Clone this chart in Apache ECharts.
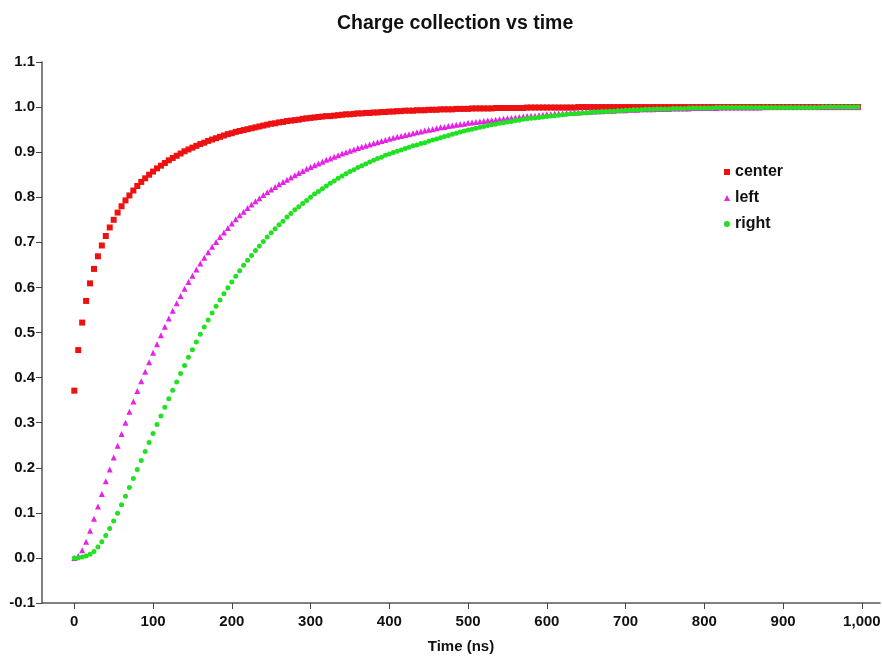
<!DOCTYPE html>
<html>
<head>
<meta charset="utf-8">
<title>Charge collection vs time</title>
<script src="https://cdn.jsdelivr.net/npm/echarts@6/dist/echarts.min.js"></script>
<style>
  html, body { margin: 0; padding: 0; background: #fff; }
  #main { width: 882px; height: 656px; }
</style>
</head>
<body>
<div id="main"></div>
<script>
// sample times (ns), one point every 5 ns
const times = [
  0, 5, 10, 15, 20, 25, 30, 35, 40, 45, 50, 55, 60, 65, 70, 75, 80, 85, 90, 95,
  100, 105, 110, 115, 120, 125, 130, 135, 140, 145, 150, 155, 160, 165, 170, 175, 180, 185, 190, 195,
  200, 205, 210, 215, 220, 225, 230, 235, 240, 245, 250, 255, 260, 265, 270, 275, 280, 285, 290, 295,
  300, 305, 310, 315, 320, 325, 330, 335, 340, 345, 350, 355, 360, 365, 370, 375, 380, 385, 390, 395,
  400, 405, 410, 415, 420, 425, 430, 435, 440, 445, 450, 455, 460, 465, 470, 475, 480, 485, 490, 495,
  500, 505, 510, 515, 520, 525, 530, 535, 540, 545, 550, 555, 560, 565, 570, 575, 580, 585, 590, 595,
  600, 605, 610, 615, 620, 625, 630, 635, 640, 645, 650, 655, 660, 665, 670, 675, 680, 685, 690, 695,
  700, 705, 710, 715, 720, 725, 730, 735, 740, 745, 750, 755, 760, 765, 770, 775, 780, 785, 790, 795,
  800, 805, 810, 815, 820, 825, 830, 835, 840, 845, 850, 855, 860, 865, 870, 875, 880, 885, 890, 895,
  900, 905, 910, 915, 920, 925, 930, 935, 940, 945, 950, 955, 960, 965, 970, 975, 980, 985, 990, 995
];

const center = [
  0.371, 0.461, 0.522, 0.570, 0.609, 0.641, 0.669, 0.693, 0.714, 0.733, 0.750, 0.766, 0.780, 0.793, 0.804, 0.815, 0.825, 0.834, 0.842, 0.850,
  0.857, 0.864, 0.870, 0.876, 0.882, 0.887, 0.892, 0.897, 0.902, 0.906, 0.910, 0.914, 0.918, 0.921, 0.925, 0.928, 0.931, 0.934, 0.937, 0.940,
  0.942, 0.945, 0.947, 0.949, 0.951, 0.953, 0.955, 0.957, 0.959, 0.961, 0.963, 0.964, 0.966, 0.967, 0.969, 0.970, 0.971, 0.972, 0.974, 0.975,
  0.976, 0.977, 0.978, 0.979, 0.980, 0.980, 0.981, 0.982, 0.983, 0.984, 0.984, 0.985, 0.986, 0.986, 0.987, 0.987, 0.988, 0.988, 0.989, 0.989,
  0.990, 0.990, 0.991, 0.991, 0.992, 0.992, 0.992, 0.993, 0.993, 0.993, 0.994, 0.994, 0.994, 0.995, 0.995, 0.995, 0.995, 0.996, 0.996, 0.996,
  0.996, 0.997, 0.997, 0.997, 0.997, 0.997, 0.997, 0.998, 0.998, 0.998, 0.998, 0.998, 0.998, 0.998, 0.998, 0.999, 0.999, 0.999, 0.999, 0.999,
  0.999, 0.999, 0.999, 0.999, 0.999, 0.999, 0.999, 0.999, 1.000, 1.000, 1.000, 1.000, 1.000, 1.000, 1.000, 1.000, 1.000, 1.000, 1.000, 1.000,
  1.000, 1.000, 1.000, 1.000, 1.000, 1.000, 1.000, 1.000, 1.000, 1.000, 1.000, 1.000, 1.000, 1.000, 1.000, 1.000, 1.000, 1.000, 1.000, 1.000,
  1.000, 1.000, 1.000, 1.000, 1.000, 1.000, 1.000, 1.000, 1.000, 1.000, 1.000, 1.000, 1.000, 1.000, 1.000, 1.000, 1.000, 1.000, 1.000, 1.000,
  1.000, 1.000, 1.000, 1.000, 1.000, 1.000, 1.000, 1.000, 1.000, 1.000, 1.000, 1.000, 1.000, 1.000, 1.000, 1.000, 1.000, 1.000, 1.000, 1.000
];

const left = [
  0.000, 0.004, 0.017, 0.036, 0.060, 0.087, 0.114, 0.142, 0.170, 0.196, 0.223, 0.249, 0.275, 0.300, 0.324, 0.347, 0.370, 0.392, 0.413, 0.434,
  0.455, 0.474, 0.494, 0.513, 0.531, 0.548, 0.565, 0.581, 0.597, 0.612, 0.626, 0.640, 0.653, 0.666, 0.678, 0.690, 0.701, 0.712, 0.722, 0.732,
  0.742, 0.751, 0.760, 0.768, 0.776, 0.784, 0.791, 0.798, 0.805, 0.811, 0.817, 0.823, 0.829, 0.834, 0.839, 0.844, 0.849, 0.854, 0.858, 0.863,
  0.867, 0.871, 0.875, 0.879, 0.883, 0.886, 0.890, 0.893, 0.897, 0.900, 0.903, 0.906, 0.909, 0.912, 0.914, 0.917, 0.920, 0.922, 0.925, 0.927,
  0.930, 0.932, 0.934, 0.936, 0.938, 0.940, 0.942, 0.944, 0.946, 0.948, 0.950, 0.951, 0.953, 0.955, 0.956, 0.958, 0.959, 0.961, 0.962, 0.963,
  0.965, 0.966, 0.967, 0.968, 0.969, 0.970, 0.971, 0.972, 0.973, 0.974, 0.975, 0.976, 0.977, 0.978, 0.979, 0.980, 0.981, 0.981, 0.982, 0.983,
  0.984, 0.984, 0.985, 0.986, 0.986, 0.987, 0.987, 0.988, 0.988, 0.989, 0.989, 0.990, 0.990, 0.991, 0.991, 0.992, 0.992, 0.992, 0.993, 0.993,
  0.993, 0.994, 0.994, 0.994, 0.995, 0.995, 0.995, 0.995, 0.996, 0.996, 0.996, 0.996, 0.997, 0.997, 0.997, 0.997, 0.997, 0.998, 0.998, 0.998,
  0.998, 0.998, 0.998, 0.998, 0.999, 0.999, 0.999, 0.999, 0.999, 0.999, 0.999, 0.999, 0.999, 0.999, 0.999, 1.000, 1.000, 1.000, 1.000, 1.000,
  1.000, 1.000, 1.000, 1.000, 1.000, 1.000, 1.000, 1.000, 1.000, 1.000, 1.000, 1.000, 1.000, 1.000, 1.000, 1.000, 1.000, 1.000, 1.000, 1.000
];

const right = [
  0.000, 0.000, 0.002, 0.004, 0.008, 0.014, 0.024, 0.036, 0.050, 0.065, 0.082, 0.099, 0.118, 0.137, 0.156, 0.176, 0.196, 0.216, 0.236, 0.256,
  0.276, 0.296, 0.315, 0.334, 0.353, 0.372, 0.390, 0.409, 0.427, 0.445, 0.462, 0.479, 0.496, 0.512, 0.528, 0.543, 0.558, 0.572, 0.586, 0.599,
  0.612, 0.625, 0.637, 0.649, 0.660, 0.671, 0.682, 0.692, 0.702, 0.712, 0.721, 0.730, 0.739, 0.747, 0.756, 0.764, 0.772, 0.779, 0.786, 0.793,
  0.800, 0.807, 0.813, 0.819, 0.825, 0.831, 0.836, 0.842, 0.847, 0.852, 0.857, 0.861, 0.866, 0.870, 0.874, 0.878, 0.882, 0.886, 0.889, 0.893,
  0.896, 0.899, 0.902, 0.905, 0.908, 0.911, 0.914, 0.916, 0.919, 0.921, 0.924, 0.927, 0.929, 0.932, 0.935, 0.937, 0.940, 0.942, 0.945, 0.947,
  0.949, 0.951, 0.953, 0.955, 0.957, 0.959, 0.961, 0.962, 0.964, 0.965, 0.967, 0.968, 0.970, 0.971, 0.973, 0.974, 0.975, 0.976, 0.977, 0.978,
  0.979, 0.980, 0.981, 0.982, 0.983, 0.984, 0.985, 0.985, 0.986, 0.987, 0.987, 0.988, 0.989, 0.989, 0.990, 0.990, 0.991, 0.991, 0.992, 0.992,
  0.993, 0.993, 0.994, 0.994, 0.994, 0.995, 0.995, 0.995, 0.996, 0.996, 0.996, 0.996, 0.997, 0.997, 0.997, 0.997, 0.998, 0.998, 0.998, 0.998,
  0.998, 0.998, 0.998, 0.999, 0.999, 0.999, 0.999, 0.999, 0.999, 0.999, 0.999, 0.999, 0.999, 0.999, 0.999, 0.999, 0.999, 0.999, 0.999, 0.999,
  0.999, 0.999, 0.999, 0.999, 0.999, 0.999, 0.999, 0.999, 0.999, 0.999, 1.000, 1.000, 1.000, 1.000, 1.000, 1.000, 1.000, 1.000, 1.000, 1.000
];

const xTicks = [0, 100, 200, 300, 400, 500, 600, 700, 800, 900, 1000];

const font = "'Liberation Sans', Arial, sans-serif";

// x/y pairs for a scatter series
const pairs = (ys) => times.map((t, i) => [t, ys[i]]);

const myChart = echarts.init(document.getElementById('main'));

myChart.setOption({
  animation: false,
  backgroundColor: '#fff',
  title: {
    text: 'Charge collection vs time',
    left: 332,
    top: 9,
    textStyle: { fontFamily: font, fontSize: 19.5, fontWeight: 'bold', color: '#111' }
  },
  legend: {
    orient: 'vertical',
    left: 719,
    top: 159,
    itemGap: 10,
    itemWidth: 6,
    itemHeight: 6,
    textStyle: { fontFamily: font, fontSize: 16, fontWeight: 'bold', color: '#111' },
    data: ['center', 'left', 'right']
  },
  // keep the plot box fixed, labels may run to the page edge
  grid: { left: 42, right: 2, top: 62, bottom: 53, outerBoundsMode: 'none', containLabel: false },
  xAxis: {
    type: 'value',
    min: -41,
    max: 1023,
    name: 'Time (ns)',
    nameLocation: 'middle',
    nameGap: 36,
    nameTextStyle: { fontFamily: font, fontSize: 15, fontWeight: 'bold', color: '#111' },
    splitLine: { show: false },
    axisLine: { onZero: false, lineStyle: { color: '#555', width: 1.5 } },
    axisTick: { customValues: xTicks, length: 6, lineStyle: { color: '#444' } },
    axisLabel: {
      customValues: xTicks,
      margin: 11,
      fontFamily: font, fontSize: 15, fontWeight: 'bold', color: '#111',
      formatter: (v) => v.toLocaleString('en-US')
    }
  },
  yAxis: {
    type: 'value',
    min: -0.1,
    max: 1.1,
    interval: 0.1,
    splitLine: { show: false },
    axisLine: { show: true, onZero: false, lineStyle: { color: '#555', width: 1.5 } },
    axisTick: { show: true, length: 6, lineStyle: { color: '#444' } },
    axisLabel: {
      margin: 7,
      fontFamily: font, fontSize: 15, fontWeight: 'bold', color: '#111',
      formatter: (v) => v.toFixed(1)
    }
  },
  series: [
    {
      name: 'center',
      type: 'scatter',
      symbol: 'rect',
      symbolSize: 6,
      itemStyle: { color: '#ee1111', opacity: 1 },
      data: pairs(center)
    },
    {
      name: 'left',
      type: 'scatter',
      symbol: 'triangle',
      symbolSize: 6,
      itemStyle: { color: '#e622e6', opacity: 1 },
      data: pairs(left)
    },
    {
      name: 'right',
      type: 'scatter',
      symbol: 'circle',
      symbolSize: 5,
      itemStyle: { color: '#22e022', opacity: 1 },
      data: pairs(right)
    }
  ]
});
</script>
</body>
</html>
